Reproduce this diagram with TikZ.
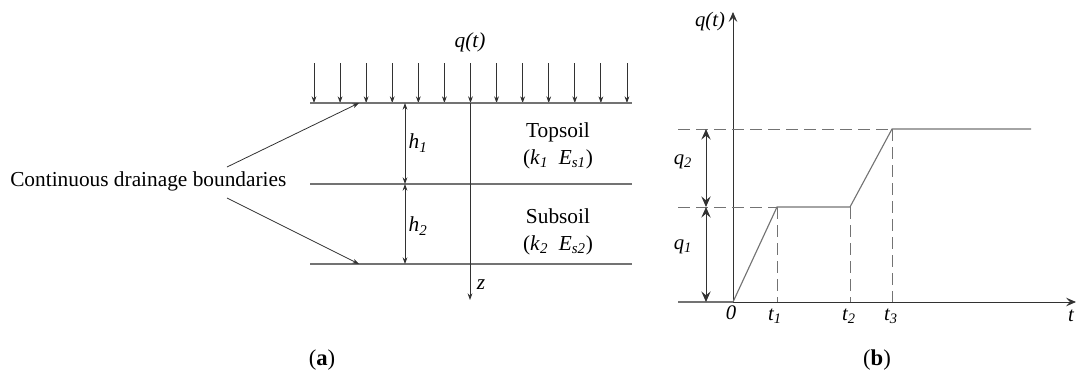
\documentclass[tikz,border=0pt]{standalone}
\usepackage{fontspec}
\setmainfont{Liberation Serif}
\usetikzlibrary{arrows.meta}
\definecolor{lc}{RGB}{115,115,115}
\definecolor{ac}{RGB}{50,50,50}
\newcommand{\sbs}[1]{\textsubscript{\textit{#1}}}
\begin{document}
\begin{tikzpicture}[x=0.75pt,y=-0.75pt,
  bline/.style={draw=lc, line width=0.85pt},
  loadarrow/.style={draw=ac, line width=0.6pt, -{Stealth[length=5pt,width=3.6pt]}},
  dimarrow/.style={draw=ac, line width=0.6pt, {Stealth[length=5pt,width=3.6pt]}-{Stealth[length=5pt,width=3.6pt]}},
  bigdim/.style={draw=ac, line width=0.75pt, {Stealth[length=8pt,width=7pt,inset=3pt]}-{Stealth[length=8pt,width=7pt,inset=3pt]}},
  axisarrow/.style={draw=ac, line width=0.65pt, -{Stealth[length=7.5pt,width=6.5pt,inset=3pt]}},
  dashline/.style={draw=lc, line width=0.75pt, dash pattern=on 9pt off 4.5pt},
  lab/.style={font=\fontsize{16}{19}\selectfont, inner sep=0pt},
  ilab/.style={font=\fontsize{16}{19}\selectfont\itshape, inner sep=0pt},
  blab/.style={font=\fontsize{15.5}{18}\selectfont\itshape, inner sep=0pt},
  caplab/.style={font=\fontsize{17}{20}\selectfont, inner sep=0pt}]
\useasboundingbox (0,0) rectangle (1076,376);

% ---------- panel (a) ----------
\foreach \i in {0,...,12} {
  \coordinate (la\i) at ({314+26.08*\i},63);
  \coordinate (lb\i) at ({314+26.08*\i},103);
  \draw[loadarrow] (la\i) -- (lb\i);
}
\coordinate (tl) at (310,103); \coordinate (tr) at (632,103);
\coordinate (ml) at (310,184); \coordinate (mr) at (632,184);
\coordinate (bl) at (310,264); \coordinate (br) at (632,264);
\draw[bline] (tl) -- (tr);
\draw[bline] (ml) -- (mr);
\draw[bline] (bl) -- (br);

\coordinate (z0) at (470,103); \coordinate (z1) at (470,300);
\draw[loadarrow] (z0) -- (z1);
\node[ilab] (zlab) at (481,285) {z};
\node[ilab] (qlab) at (470,42) {q(t)};

\coordinate (h0) at (405,103); \coordinate (h1) at (405,184); \coordinate (h2) at (405,264);
\draw[dimarrow] (h0) -- (h1);
\draw[dimarrow] (h1) -- (h2);
\node[lab] (h1lab) at (418,143) {\textit{h}\sbs{1}};
\node[lab] (h2lab) at (418,226) {\textit{h}\sbs{2}};

\node[lab, anchor=base west] (cdb) at (10,186) {Continuous drainage boundaries};
\coordinate (d1s) at (227,167); \coordinate (d1e) at (359,103);
\coordinate (d2s) at (227,198); \coordinate (d2e) at (359,264);
\draw[loadarrow] (d1s) -- (d1e);
\draw[loadarrow] (d2s) -- (d2e);

\node[lab, anchor=base] (top) at (558,137) {Topsoil};
\node[lab, anchor=base] (topk) at (558,164) {(\textit{k}\sbs{1}\ \ \textit{E}\sbs{s1})};
\node[lab, anchor=base] (sub) at (558,223) {Subsoil};
\node[lab, anchor=base] (subk) at (558,250) {(\textit{k}\sbs{2}\ \ \textit{E}\sbs{s2})};

\node[caplab] (capa) at (322,360) {(\textbf{a})};

% ---------- panel (b) ----------
\coordinate (O) at (733,302); \coordinate (ytop) at (733,12);
\coordinate (xl) at (678,302); \coordinate (xr) at (1076,302);
\draw[axisarrow] (O) -- (ytop);
\draw[bline] (xl) -- (O);
\draw[axisarrow] (O) -- (xr);

\coordinate (p1) at (777,207); \coordinate (p2) at (850,207);
\coordinate (p3) at (892,129); \coordinate (p4) at (1031,129);
\draw[bline] (O) -- (p1) -- (p2) -- (p3) -- (p4);

\coordinate (q1l) at (678,207); \coordinate (q2l) at (678,129);
\coordinate (t1b) at (777,302); \coordinate (t2b) at (850,302); \coordinate (t3b) at (892,302);
\draw[dashline] (q1l) -- (p1);
\draw[dashline] (q2l) -- (p3);
\draw[dashline] (p1) -- (t1b);
\draw[dashline] (p2) -- (t2b);
\draw[dashline] (p3) -- (t3b);

\coordinate (dq0) at (706,129); \coordinate (dq1) at (706,207); \coordinate (dq2) at (706,302);
\draw[bigdim] (dq0) -- (dq1);
\draw[bigdim] (dq1) -- (dq2);

\node[blab] (qtb) at (710,22) {q(t)};
\node[blab] (q2lab) at (683,162) {q\sbs{2}};
\node[blab] (q1lab) at (683,247) {q\sbs{1}};
\node[blab] (zero) at (731,313) {0};
\node[blab] (t1lab) at (775,316) {t\sbs{1}};
\node[blab] (t2lab) at (849,316) {t\sbs{2}};
\node[blab] (t3lab) at (891,316) {t\sbs{3}};
\node[blab] (tlab) at (1071,316) {t};

\node[caplab] (capb) at (877,360) {(\textbf{b})};
\end{tikzpicture}
\end{document}
